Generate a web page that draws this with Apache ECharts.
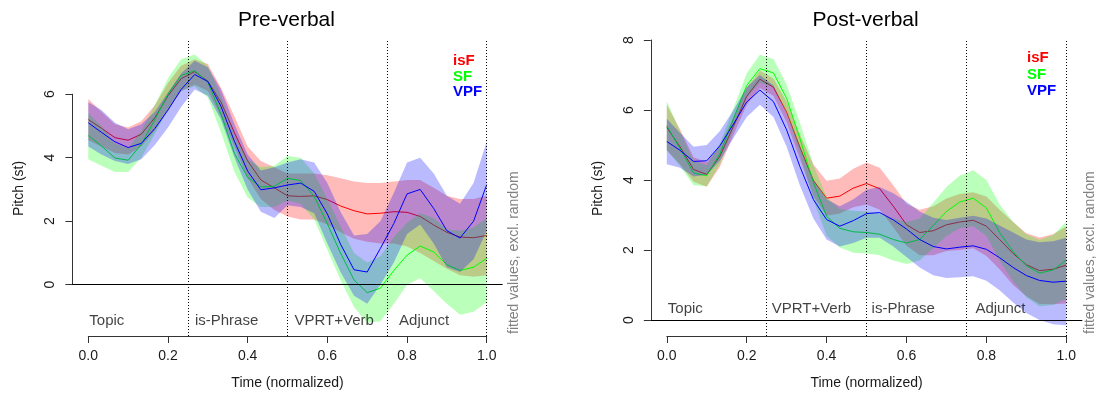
<!DOCTYPE html>
<html><head><meta charset="utf-8">
<script src="https://cdn.jsdelivr.net/npm/echarts@6/dist/echarts.min.js"></script>
<style>html,body{margin:0;padding:0;background:#fff}#c{width:1097px;height:394px}</style>
</head><body><div id="c"></div>
<script>
// ---------- data ----------
const TIME = [0,0.033,0.067,0.1,0.133,0.167,0.2,0.233,0.267,0.3,0.333,0.367,0.4,0.433,0.467,0.5,0.533,0.567,0.6,0.633,0.667,0.7,0.733,0.767,0.8,0.833,0.867,0.9,0.933,0.967,1];
const BOUNDS = [0.25,0.5,0.75,1.0];
const SECTION_START = [0,0.25,0.5,0.75];
const SECTIONS_PRE = ['Topic','is-Phrase','VPRT+Verb','Adjunct'];
const SECTIONS_POST = ['Topic','VPRT+Verb','is-Phrase','Adjunct'];
const GROUPS = ['isF','SF','VPF'];

// Pre-verbal
const PRE_ISF    = [5.2,4.93,4.63,4.55,4.74,5.26,5.95,6.49,6.71,6.41,5.75,4.78,3.9,3.3,3.05,2.8,2.78,2.8,2.68,2.48,2.33,2.23,2.25,2.3,2.28,2.15,1.88,1.65,1.5,1.48,1.55];
const PRE_ISF_LO = [4.55,4.35,4.15,4.1,4.35,4.85,5.5,6.1,6.3,6.1,5.3,4.35,3.35,2.7,2.35,2.15,2.05,2.05,1.9,1.65,1.45,1.35,1.3,1.3,1.2,1.0,0.75,0.5,0.3,0.25,0.3];
const PRE_ISF_HI = [5.85,5.45,5.05,4.95,5.15,5.65,6.35,6.9,7.1,6.95,6.2,5.3,4.35,3.9,3.7,3.5,3.5,3.5,3.45,3.35,3.25,3.2,3.2,3.25,3.3,3.3,3.05,2.8,2.7,2.7,2.8];
const PRE_SF     = [4.7,4.37,3.99,3.92,4.42,5.2,6.0,6.59,6.74,6.38,5.37,4.13,3.38,3.08,3.1,3.35,3.28,2.78,1.92,1.0,0.15,-0.25,-0.11,0.45,0.93,1.22,1.03,0.63,0.45,0.55,0.83];
const PRE_SF_LO  = [3.95,3.75,3.55,3.55,4.0,4.75,5.5,6.1,6.25,5.9,4.8,3.55,2.75,2.45,2.45,2.65,2.55,2.05,1.1,0.15,-0.7,-1.2,-1.15,-0.6,0.0,0.2,-0.2,-0.6,-0.95,-0.85,-0.55];
const PRE_SF_HI  = [5.4,5.0,4.45,4.3,4.85,5.65,6.5,7.1,7.25,6.9,5.95,4.7,3.95,3.7,3.75,4.05,4.0,3.5,2.7,1.85,1.0,0.7,0.9,1.5,1.95,2.25,2.1,1.75,1.7,1.8,2.1];
const PRE_VPF    = [5.1,4.8,4.5,4.32,4.45,4.92,5.5,6.15,6.62,6.4,5.62,4.51,3.58,2.99,3.05,3.14,3.2,2.94,2.23,1.28,0.47,0.4,1.14,1.93,2.86,3.0,2.4,1.7,1.47,2.0,3.15];
const PRE_VPF_LO = [4.35,4.1,3.9,3.8,3.95,4.4,4.95,5.6,6.15,5.95,5.2,4.0,3.0,2.3,2.1,2.5,2.45,2.25,1.3,0.4,-0.35,-0.6,0.0,0.7,1.6,1.9,1.3,0.55,0.4,0.8,1.7];
const PRE_VPF_HI = [5.75,5.5,5.1,4.9,5.05,5.45,6.05,6.65,7.05,6.85,6.15,5.05,4.1,3.6,3.7,3.85,3.95,3.85,3.2,2.3,1.55,1.6,2.0,2.9,3.85,4.0,3.5,2.8,2.55,3.2,4.5];

// Post-verbal
const POST_ISF    = [5.5,4.95,4.3,4.16,4.68,5.54,6.39,6.88,6.65,5.94,4.95,3.99,3.48,3.54,3.77,3.9,3.75,3.25,2.72,2.5,2.55,2.72,2.8,2.85,2.68,2.3,1.9,1.58,1.41,1.45,1.57];
const POST_ISF_LO = [4.85,4.45,3.95,3.81,4.38,5.29,6.14,6.63,6.4,5.64,4.6,3.54,2.98,3.04,3.22,3.3,3.15,2.65,2.12,1.85,1.85,1.97,2.0,2.05,1.83,1.45,1.0,0.68,0.46,0.45,0.47];
const POST_ISF_HI = [6.15,5.45,4.65,4.51,4.98,5.79,6.64,7.13,6.9,6.24,5.3,4.44,3.98,4.04,4.32,4.5,4.35,3.85,3.32,3.15,3.25,3.47,3.6,3.65,3.53,3.15,2.8,2.48,2.36,2.45,2.67];
const POST_SF     = [5.55,4.9,4.2,4.12,4.75,5.75,6.7,7.18,7.06,6.33,5.19,3.93,2.96,2.62,2.52,2.5,2.45,2.3,2.2,2.3,2.7,3.1,3.37,3.48,3.2,2.5,1.95,1.55,1.34,1.43,1.71];
const POST_SF_LO  = [4.85,4.4,3.85,3.82,4.45,5.45,6.35,6.78,6.66,5.93,4.74,3.43,2.41,2.07,1.92,1.9,1.85,1.7,1.6,1.7,2.05,2.4,2.62,2.68,2.4,1.7,1.1,0.65,0.39,0.43,0.61];
const POST_SF_HI  = [6.25,5.4,4.55,4.42,5.05,6.05,7.05,7.58,7.46,6.73,5.64,4.43,3.51,3.17,3.12,3.1,3.05,2.9,2.8,2.9,3.35,3.8,4.12,4.28,4.0,3.3,2.8,2.45,2.29,2.43,2.81];
const POST_VPF    = [5.1,4.85,4.53,4.55,4.98,5.6,6.23,6.57,6.24,5.43,4.39,3.44,2.87,2.68,2.84,3.04,3.07,2.86,2.6,2.3,2.1,2.03,2.08,2.12,2.02,1.78,1.5,1.27,1.13,1.08,1.11];
const POST_VPF_LO = [4.45,4.35,4.1,4.15,4.55,5.2,5.8,6.15,5.8,4.95,3.85,2.9,2.3,2.1,2.2,2.35,2.35,2.1,1.8,1.5,1.28,1.2,1.22,1.25,1.12,0.85,0.5,0.2,0.0,-0.12,-0.15];
const POST_VPF_HI = [5.75,5.35,4.95,5.0,5.4,6.0,6.65,7.0,6.7,5.9,4.95,4.0,3.45,3.25,3.45,3.72,3.8,3.62,3.38,3.1,2.92,2.86,2.92,2.98,2.9,2.7,2.5,2.3,2.22,2.25,2.35];

// ---------- styling / layout ----------
const FONT = '"Liberation Sans", Arial, Helvetica, sans-serif';
const LINE_COLORS = ['#FF0000','#00FF00','#0000FF'];
const BAND_COLORS = ['rgba(255,0,0,0.27)','rgba(0,255,0,0.27)','rgba(0,0,255,0.27)'];
const PLOT_TOP = 41, PLOT_BOTTOM = 336;

const PANELS = [
  { title:'Pre-verbal', x0:88.3, sx:398.4, y0:284.7, sy:31.75, yMaxTick:6, labelY:-1.134,
    labelDist:[1,7,7,12], sections:SECTIONS_PRE,
    groups:[[PRE_ISF,PRE_ISF_LO,PRE_ISF_HI],[PRE_SF,PRE_SF_LO,PRE_SF_HI],[PRE_VPF,PRE_VPF_LO,PRE_VPF_HI]],
    noteX:514, legX:453, legY:[61,76.5,92] },
  { title:'Post-verbal', x0:666.8, sx:399.5, y0:320, sy:35, yMaxTick:8, labelY:0.314,
    labelDist:[1,5,5,9], sections:SECTIONS_POST,
    groups:[[POST_ISF,POST_ISF_LO,POST_ISF_HI],[POST_SF,POST_SF_LO,POST_SF_HI],[POST_VPF,POST_VPF_LO,POST_VPF_HI]],
    noteX:1090, legX:1027, legY:[58,74.5,91] }
];

const grid = [], xAxis = [], yAxis = [], series = [], title = [], graphic = [];
const txt = (size, extra) => Object.assign({fontFamily:FONT, fontSize:size, color:'#000', fontWeight:'normal'}, extra||{});

PANELS.forEach((p, pi) => {
  const b = pi * 3;
  const leftA = p.x0 - 0.04 * p.sx;
  // data grid
  grid.push({left:leftA, top:PLOT_TOP, width:1.08*p.sx, height:PLOT_BOTTOM-PLOT_TOP, containLabel:false, outerBoundsMode:'none'});
  xAxis.push({gridIndex:b, type:'value', min:-0.04, max:1.04, show:false});
  yAxis.push({gridIndex:b, type:'value', min:(p.y0-PLOT_BOTTOM)/p.sy, max:(p.y0-PLOT_TOP)/p.sy,
    name:'Pitch (st)', nameLocation:'middle', nameGap:46, nameTextStyle:txt(14, {color:'#1a1a1a'}),
    axisLine:{show:false}, axisTick:{show:false}, axisLabel:{show:false}, splitLine:{show:false}});
  // x tick axis grid (0..1 only)
  grid.push({left:p.x0, top:PLOT_BOTTOM-10, width:p.sx, height:10, containLabel:false, outerBoundsMode:'none'});
  xAxis.push({gridIndex:b+1, type:'value', min:0, max:1, interval:0.2,
    name:'Time (normalized)', nameLocation:'middle', nameGap:40, nameTextStyle:txt(14, {color:'#1a1a1a'}),
    axisLine:{show:true, lineStyle:{color:'#333', width:1}},
    axisTick:{show:true, length:7, lineStyle:{color:'#333'}},
    axisLabel:{show:true, margin:13, formatter:v=>v.toFixed(1), ...txt(14, {color:'#1a1a1a'})},
    splitLine:{show:false}});
  yAxis.push({gridIndex:b+1, type:'value', min:0, max:1, show:false});
  // y tick axis grid (0..max tick only)
  grid.push({left:leftA, top:p.y0 - p.yMaxTick*p.sy, width:10, height:p.yMaxTick*p.sy, containLabel:false, outerBoundsMode:'none'});
  xAxis.push({gridIndex:b+2, type:'value', min:0, max:1, show:false});
  yAxis.push({gridIndex:b+2, type:'value', min:0, max:p.yMaxTick, interval:2,
    axisLine:{show:true, lineStyle:{color:'#333', width:1}},
    axisTick:{show:true, length:7, lineStyle:{color:'#333'}},
    axisLabel:{show:true, rotate:90, margin:15, ...txt(14, {color:'#1a1a1a'})},
    splitLine:{show:false}});

  // bands and lines
  p.groups.forEach((g, gi) => {
    const [mid, lo, hi] = g;
    series.push({
      type:'custom', name:GROUPS[gi]+' band', xAxisIndex:b, yAxisIndex:b, z:2*gi+1, silent:true, clip:true,
      data:[[0.5, 0]],
      renderItem:(params, api) => {
        const pts = [];
        for (let i = 0; i < TIME.length; i++) pts.push(api.coord([TIME[i], hi[i]]));
        for (let i = TIME.length - 1; i >= 0; i--) pts.push(api.coord([TIME[i], lo[i]]));
        return {type:'polygon', shape:{points:pts}, style:{fill:BAND_COLORS[gi], stroke:null}};
      }
    });
    const line = {
      type:'line', name:GROUPS[gi], xAxisIndex:b, yAxisIndex:b, z:2*gi+2, silent:true,
      showSymbol:false, symbol:'none', lineStyle:{color:LINE_COLORS[gi], width:1},
      data: TIME.map((t, i) => [t, mid[i]])
    };
    if (gi === 2) {
      line.markLine = {
        silent:true, symbol:['none','none'], z:20, label:{show:false},
        data: BOUNDS.map(v => ({xAxis:v, lineStyle:{color:'#000', type:[1,2], width:1}}))
          .concat([{yAxis:0, lineStyle:{color:'#000', type:'solid', width:1}}])
      };
    }
    series.push(line);
  });

  // section labels
  series.push({
    type:'scatter', xAxisIndex:b, yAxisIndex:b, z:20, silent:true, symbolSize:0,
    data: p.sections.map((s, i) => ({value:[SECTION_START[i], p.labelY, s],
      label:{distance:p.labelDist[i]}})),
    label:{show:true, position:'right', formatter:q => q.data.value[2], ...txt(15, {color:'#111'})}
  });

  // title
  title.push({text:p.title, left:leftA + 0.54*p.sx - 1, top:10, textAlign:'center', padding:0,
    textStyle:txt(21, {color:'#000'})});

  // legend text (coloured labels)
  GROUPS.forEach((gname, gi) => {
    graphic.push({type:'text', x:p.legX, y:p.legY[gi], silent:true,
      style:{text:gname, fill:LINE_COLORS[gi], font:'bold 15px ' + FONT, align:'left', verticalAlign:'middle'}});
  });
  // side note
  graphic.push({type:'text', x:p.noteX, y:PLOT_BOTTOM - 2, rotation:Math.PI/2, silent:true,
    style:{text:'fitted values, excl. random', fill:'#808080', font:'14px ' + FONT, align:'left', verticalAlign:'middle'}});
});

const chart = echarts.init(document.getElementById('c'), null, {renderer:'canvas'});
chart.setOption({animation:false, backgroundColor:'#fff', title, grid, xAxis, yAxis, series, graphic});
</script></body></html>
